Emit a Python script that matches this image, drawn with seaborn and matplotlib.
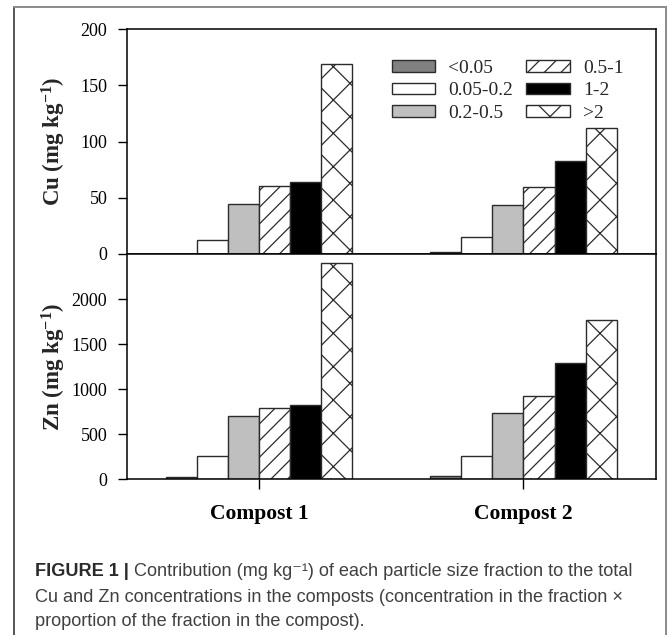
import matplotlib
matplotlib.use("Agg")
import matplotlib.pyplot as plt
from matplotlib.patches import Patch
from matplotlib.lines import Line2D
import seaborn as sns
import pandas as pd

# ---- data ----
composts = ["Compost 1", "Compost 2"]
fractions = ["<0.05", "0.05-0.2", "0.2-0.5", "0.5-1", "1-2", ">2"]
cu_c1 = [0.3, 12.5, 44.3, 60.4, 64.0, 169.0]
cu_c2 = [2.0, 14.9, 43.5, 59.2, 83.0, 112.0]
zn_c1 = [22, 253, 706, 792, 825, 2401]
zn_c2 = [37, 264, 736, 929, 1290, 1766]
cu_ticks = [0, 50, 100, 150, 200]
zn_ticks = [0, 500, 1000, 1500, 2000]

face = ["#808080", "#ffffff", "#bfbfbf", "#ffffff", "#000000", "#ffffff"]
hatches = ["", "", "", "//", "", "x"]

def frame(v1, v2):
    rows = []
    for f, a, b in zip(fractions, v1, v2):
        rows.append({"compost": composts[0], "fraction": f, "value": a})
        rows.append({"compost": composts[1], "fraction": f, "value": b})
    return pd.DataFrame(rows)

cu_df = frame(cu_c1, cu_c2)
zn_df = frame(zn_c1, zn_c2)

sns.set_style("white")
plt.rcParams["font.family"] = ["Liberation Serif", "DejaVu Serif"]
plt.rcParams["mathtext.fontset"] = "custom"
plt.rcParams["mathtext.rm"] = "Liberation Serif:bold"
plt.rcParams["mathtext.it"] = "Liberation Serif:bold"
plt.rcParams["mathtext.bf"] = "Liberation Serif:bold"
plt.rcParams["hatch.linewidth"] = 0.9

W, H = 669, 635
fig = plt.figure(figsize=(W / 100, H / 100), dpi=100)
fig.patch.set_facecolor("white")

left, right = 126.7, 655.7
top, mid, bot = 29.3, 254.0, 479.3
ax1 = fig.add_axes([left / W, 1 - mid / H, (right - left) / W, (mid - top) / H])
ax2 = fig.add_axes([left / W, 1 - bot / H, (right - left) / W, (bot - mid) / H])

pal = dict(zip(fractions, face))
for ax, df in [(ax1, cu_df), (ax2, zn_df)]:
    sns.barplot(data=df, x="compost", y="value", hue="fraction", hue_order=fractions,
                order=composts, palette=pal, saturation=1, width=0.705,
                errorbar=None, legend=False, ax=ax)
    for cont, h in zip(ax.containers, hatches):
        for p in cont:
            p.set_edgecolor("#2b2b2b")
            p.set_linewidth(1.0)
            p.set_hatch(h)
    ax.set_xlim(-0.5, 1.5)
    for s in ax.spines.values():
        s.set_visible(True)
        s.set_color("black")
        s.set_linewidth(1.1)
    ax.tick_params(axis="y", direction="out", length=6.5, width=1.0, pad=7.5,
                   labelsize=13, left=True, colors="black")
    ax.set_xlabel("")

ax1.set_ylim(0, 200)
ax1.set_yticks(cu_ticks)
ax1.set_xticks([])
ax2.set_ylim(0, 2500)
ax2.set_yticks(zn_ticks)
ax2.tick_params(axis="x", direction="out", length=7, width=1.0, pad=11,
                bottom=True, colors="black")
for lab in ax2.get_xticklabels():
    lab.set_fontsize(15.5)
    lab.set_fontweight("bold")

ax1.set_ylabel(r"Cu (mg kg$^{-1}$)", fontsize=16.5, fontweight="bold")
ax2.set_ylabel(r"Zn (mg kg$^{-1}$)", fontsize=16.5, fontweight="bold")
ax1.yaxis.set_label_coords((68 - left) / (right - left), 0.5)
ax2.yaxis.set_label_coords((68 - left) / (right - left), 0.5)

handles = [Patch(facecolor=c, edgecolor="#2b2b2b", hatch=h, linewidth=1.0)
           for c, h in zip(face, hatches)]
ax1.legend(handles, fractions, ncol=2, frameon=False, fontsize=14,
           loc="upper left", bbox_to_anchor=(391.7 / W, 1 - 60.0 / H),
           bbox_transform=fig.transFigure, borderpad=0, borderaxespad=0,
           handlelength=2.23, handleheight=0.53, handletextpad=0.67,
           labelspacing=0.28, columnspacing=0.69)

# outer frame
fig.add_artist(Line2D([14 / W, 14 / W], [0, 1 - 7.3 / H], transform=fig.transFigure,
                      color="#555555", lw=1.4))
fig.add_artist(Line2D([666 / W, 666 / W], [0, 1 - 7.3 / H], transform=fig.transFigure,
                      color="#8a8a8a", lw=1.4))
fig.add_artist(Line2D([14 / W, 666 / W], [1 - 7.3 / H, 1 - 7.3 / H],
                      transform=fig.transFigure, color="#8a8a8a", lw=1.4))

# caption
cap_fam = ["Liberation Sans", "DejaVu Sans"]
cap_size = 13.1
cap_col = "#404040"
x0 = 35.4 / W
t0 = fig.text(x0, 1 - 572 / H, "FIGURE 1 |", fontsize=cap_size, fontweight="bold",
              family=cap_fam, color="#2a2a2a", va="center", ha="left")
fig.canvas.draw()
bb = t0.get_window_extent(fig.canvas.get_renderer())
x1 = (bb.x1 + 5) / W
fig.text(x1, 1 - 572 / H, "Contribution (mg kg\u207b\u00b9) of each particle size fraction to the total",
         fontsize=cap_size, family=cap_fam, color=cap_col, va="center", ha="left")
fig.text(x0, 1 - 597 / H, "Cu and Zn concentrations in the composts (concentration in the fraction \u00d7",
         fontsize=cap_size, family=cap_fam, color=cap_col, va="center", ha="left")
fig.text(x0, 1 - 622 / H, "proportion of the fraction in the compost).",
         fontsize=cap_size, family=cap_fam, color=cap_col, va="center", ha="left")

fig.savefig("out.png", dpi=100, facecolor="white")
